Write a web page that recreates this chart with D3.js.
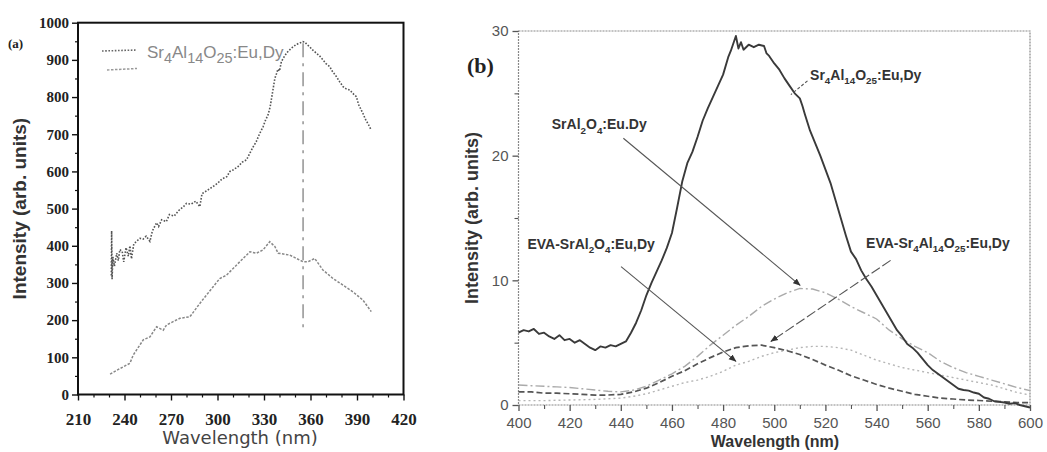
<!DOCTYPE html>
<html><head><meta charset="utf-8">
<script src="https://cdn.jsdelivr.net/npm/d3@7"></script>
<style>body{margin:0;background:#fff}svg{display:block}</style>
</head><body>
<svg id="c" width="1047" height="452"></svg>
<script>
// ---------- Panel (a) data ----------
const aTicksX = [210,240,270,300,330,360,390,420];
const aTicksY = [0,100,200,300,400,500,600,700,800,900,1000];
const aWaveSr4 = [231.5,231.7,232,232.5,233.5,235,236,237,238.5,239.5,241,242.5,243.5,244.5,246,247.8,250,252,254,256.4,258,260.7,262,264,267,269,272,275,278,280,283,286,288.6,290,293,297,300,303,306,308,310,313,316,318.7,321,323,325,327,329.4,331,332.6,334,335,335.8,337,338,339,340,341.2,342.5,344.5,346,348.7,351,353,355,356.3,358,359.5,361,363.8,366,368,370,372.4,374,376.7,379,381,383,385.3,387.8,389.6,391,393.8,395.5,397.5,399.2];
const aValSr4  = [320,440,310,370,345,380,360,390,385,357,395,372,400,365,405,412,420,418,426,412,440,462,452,470,465,484,480,495,505,514,512,520,505,540,548,559,568,580,586,600,604,612,625,631,650,666,680,700,720,738,752,774,800,820,850,862,875,870,895,905,918,925,935,942,945,949,948,940,935,928,918,910,900,890,882,870,855,840,828,822,819,808,801,780,756,740,725,711];
const aWaveSrAl = [230.7,237.2,243.5,245.6,252.1,256.4,260.7,265,267.1,275.7,282.2,288.6,297.2,301.5,305.8,310.1,314.4,320.9,325.1,329.4,333.7,337,339.1,346.6,350.9,355.2,358.4,362.7,368,374.5,381,387.4,393.8,399.2];
const aValSrAl  = [55,70,84,106,147,155,182,173,187,205,209,245,290,312,321,339,357,384,380,389,411,398,380,375,366,357,357,366,335,312,294,276,254,223];
const aMarkWave = 355.2;
const aMarkRange = [170, 945];

// ---------- Panel (b) data ----------
const bTicksX = [400,420,440,460,480,500,520,540,560,580,600];
const bTicksY = [0,10,20,30];
const bWaveMain = [400,402,404,406,408,410,412,414,416,418,420,422,424,426,428,430,432,434,436,438,440,442,444,446,448,450,452,454,456,458,460,462,464,466,468,470,472,474,476,478,480,482,483,484,485,486,487,488,490,492,494,496,497,498,500,502,504,506,508,510,511,512,514,516,518,520,522,524,526,528,530,532,534,536,538,540,542,544,546,548,550,552,554,556,558,560,562,564,566,568,570,572,574,576,578,580,582,584,586,588,590,592,594,596,598,600];
const bValMain  = [5.8,6.0,5.9,6.1,5.7,5.8,5.5,5.3,5.6,5.2,5.3,5.0,5.2,4.9,4.6,4.4,4.7,4.6,4.8,4.7,4.9,5.1,5.8,6.6,7.6,8.8,9.8,10.7,11.6,12.6,13.8,15.8,17.9,19.4,20.3,21.5,22.8,23.8,24.7,25.6,26.5,27.9,28.4,29.0,29.6,28.6,29.1,28.5,28.9,28.7,28.9,28.8,28.2,28.0,27.4,26.9,26.2,25.6,25.0,24.6,24.0,23.3,22.0,21.0,20.0,18.9,17.8,16.4,15.0,13.6,12.3,11.7,10.8,10.1,9.5,8.8,8.1,7.4,6.7,6.0,5.5,4.9,4.6,4.2,3.7,3.2,2.8,2.5,2.2,1.9,1.6,1.3,1.2,1.15,1.0,0.9,0.6,0.5,0.3,0.25,0.2,0.1,0.15,0.0,-0.1,-0.2];
const bWave5 = [400,405,410,415,420,425,430,435,440,445,450,455,460,465,470,475,480,485,490,495,500,505,510,515,520,525,530,535,540,545,550,555,560,565,570,575,580,585,590,595,600];
const bValEvaSrAl = [1.05,1.05,0.95,0.95,0.9,0.85,0.8,0.8,0.85,1.05,1.35,1.8,2.3,2.75,3.3,3.8,4.25,4.6,4.75,4.8,4.6,4.35,4.05,3.65,3.2,2.8,2.35,2.0,1.65,1.35,1.1,0.85,0.7,0.55,0.48,0.4,0.36,0.3,0.25,0.2,0.18];
const bValSrAl = [1.6,1.55,1.5,1.45,1.4,1.3,1.2,1.1,1.05,1.2,1.5,2.0,2.5,3.1,3.9,4.8,5.6,6.4,7.1,7.9,8.5,9.0,9.35,9.3,9.0,8.5,7.9,7.4,6.9,6.0,5.3,4.7,4.2,3.5,3.0,2.6,2.3,2.0,1.7,1.4,1.15];
const bValEvaSr4 = [0.35,0.35,0.35,0.38,0.4,0.42,0.45,0.5,0.55,0.7,0.9,1.2,1.5,1.8,2.0,2.3,2.7,3.2,3.5,3.9,4.2,4.4,4.6,4.7,4.7,4.6,4.4,4.0,3.6,3.3,3.0,2.8,2.6,2.4,2.2,2.0,1.8,1.6,1.3,1.0,0.8];
// annotation anchors in data units: [labelX, labelY, lineFromX, lineFromY, tipX, tipY]
const bNoteSrAl    = [413, 22.1, 441, 21.4, 510.1, 9.6];
const bNoteEvaSrAl = [403.5, 12.5, 440.1, 11.1, 485, 3.5];
const bNoteEvaSr4  = [535.9, 12.6, 545.5, 11.6, 498.7, 5.1];
const bNoteSr4     = [514, 26.1, 513, 26.0, 506.5, 24.9];

const svg = d3.select('#c');
const SERIF = '"Liberation Serif", "Times New Roman", serif';
const SANS = '"Liberation Sans", Arial, sans-serif';

// ================= Panel (a) =================
const A = {l:78, r:403.5, t:22.7, b:394.5};
const xA = d3.scaleLinear().domain([210,420]).range([A.l, A.r]);
const yA = d3.scaleLinear().domain([0,1000]).range([A.b, A.t]);
const gA = svg.append('g');

function styleAxis(g, font, size, weight, color, tickColor, tickW){
  g.select('.domain').remove();
  g.selectAll('line').attr('stroke', tickColor).attr('stroke-width', tickW);
  g.selectAll('text').attr('font-family', font).attr('font-size', size).attr('font-weight', weight).attr('fill', color);
}

const axAx = gA.append('g').attr('transform',`translate(0,${A.b})`)
  .call(d3.axisBottom(xA).tickValues(aTicksX).tickFormat(d3.format('d')).tickSize(6).tickPadding(12).tickSizeOuter(0));
styleAxis(axAx, SERIF, 17, 'bold', '#222', '#111', 1.4);
const axAxm = gA.append('g').attr('transform',`translate(0,${A.b})`)
  .call(d3.axisBottom(xA).tickValues(d3.range(210,421,10).filter(v=>!aTicksX.includes(v))).tickSize(3).tickFormat(''));
styleAxis(axAxm, SERIF, 10, 'normal', '#222', '#111', 1.2);
const axAy = gA.append('g').attr('transform',`translate(${A.l},0)`)
  .call(d3.axisLeft(yA).tickValues(aTicksY).tickFormat(d3.format('d')).tickSize(6).tickPadding(3).tickSizeOuter(0));
styleAxis(axAy, SERIF, 15, 'bold', '#222', '#111', 1.4);
const axAym = gA.append('g').attr('transform',`translate(${A.l},0)`)
  .call(d3.axisLeft(yA).tickValues(d3.range(50,1000,100)).tickSize(3).tickFormat(''));
styleAxis(axAym, SERIF, 10, 'normal', '#222', '#111', 1.2);

gA.append('rect').attr('x',A.l).attr('y',A.t).attr('width',A.r-A.l).attr('height',A.b-A.t)
  .attr('fill','none').attr('stroke','#111').attr('stroke-width',2);

const lineA = d3.line().x(d=>xA(d[0])).y(d=>yA(d[1]));
gA.append('path').datum(aWaveSr4.map((w,i)=>[w,aValSr4[i]])).attr('d',lineA)
  .attr('fill','none').attr('stroke','#555').attr('stroke-width',1.6).attr('stroke-dasharray','1.6,1.6');
gA.append('path').datum(aWaveSrAl.map((w,i)=>[w,aValSrAl[i]])).attr('d',lineA)
  .attr('fill','none').attr('stroke','#888').attr('stroke-width',1.5).attr('stroke-dasharray','2.5,1.5');
gA.append('line').attr('x1',xA(aMarkWave)).attr('x2',xA(aMarkWave))
  .attr('y1',yA(aMarkRange[1])).attr('y2',yA(aMarkRange[0]))
  .attr('stroke','#777').attr('stroke-width',1.2).attr('stroke-dasharray','14,6,3,6');

// legend (a)
gA.append('line').attr('x1',102).attr('x2',137).attr('y1',51).attr('y2',50)
  .attr('stroke','#666').attr('stroke-width',1.6).attr('stroke-dasharray','1.6,1.6');
gA.append('line').attr('x1',107).attr('x2',137).attr('y1',70).attr('y2',68.5)
  .attr('stroke','#999').attr('stroke-width',1.5).attr('stroke-dasharray','2.5,1.5');
function chem(g, x, y, parts, size, opts){
  const t = g.append('text').attr('x',x).attr('y',y).attr('font-family',opts.font||SANS)
    .attr('font-size',size).attr('font-weight',opts.weight||'normal').attr('fill',opts.fill||'#333');
  let shifted = false;
  parts.forEach(p=>{
    const sub = typeof p !== 'string';
    const txt = sub ? p[0] : p;
    const ts = t.append('tspan').text(txt);
    if (sub && !shifted){ ts.attr('dy', size*0.3).attr('font-size', size*(opts.subScale||0.72)); shifted = true; }
    else if (sub){ ts.attr('font-size', size*(opts.subScale||0.72)); }
    else if (!sub && shifted){ ts.attr('dy', -size*0.3); shifted = false; }
  });
  return t;
}
chem(gA, 147, 58, ['Sr',['4'],'Al',['14'],'O',['25'],':Eu,Dy'], 17, {fill:'#888', subScale:0.85});

gA.append('text').attr('x',8).attr('y',48).text('(a)').attr('font-family',SERIF)
  .attr('font-size',13).attr('font-weight','bold').attr('fill','#222');
gA.append('text').attr('transform',`translate(26,${(A.t+A.b)/2}) rotate(-90)`).attr('text-anchor','middle')
  .text('Intensity (arb. units)').attr('font-family',SANS).attr('font-size',19).attr('font-weight','bold').attr('fill','#333');
gA.append('text').attr('x',240).attr('y',444).attr('text-anchor','middle')
  .text('Wavelength (nm)').attr('font-family','"DejaVu Sans", sans-serif').attr('font-size',18).attr('fill','#444');

// ================= Panel (b) =================
const B = {l:518.5, r:1030, t:31, b:405};
const xB = d3.scaleLinear().domain([400,600]).range([B.l, B.r]);
const yB = d3.scaleLinear().domain([0,30]).range([B.b, B.t]);
const gB = svg.append('g');

gB.append('rect').attr('x',B.l).attr('y',B.t).attr('width',B.r-B.l).attr('height',B.b-B.t)
  .attr('fill','none').attr('stroke','#888').attr('stroke-width',1.2).attr('stroke-dasharray','2,1');

const bxAx = gB.append('g').attr('transform',`translate(0,${B.b})`)
  .call(d3.axisBottom(xB).tickValues(bTicksX).tickSize(6).tickPadding(6).tickSizeOuter(0));
styleAxis(bxAx, SANS, 15, 'normal', '#555', '#555', 1.3);
const bxAxm = gB.append('g').attr('transform',`translate(0,${B.b})`)
  .call(d3.axisBottom(xB).tickValues(d3.range(410,600,20)).tickSize(4).tickFormat(''));
styleAxis(bxAxm, SANS, 10, 'normal', '#555', '#555', 1.1);
const byAx = gB.append('g').attr('transform',`translate(${B.l},0)`)
  .call(d3.axisLeft(yB).tickValues(bTicksY).tickSize(6).tickPadding(4).tickSizeOuter(0));
styleAxis(byAx, SANS, 15, 'normal', '#555', '#555', 1.3);
const byAxm = gB.append('g').attr('transform',`translate(${B.l},0)`)
  .call(d3.axisLeft(yB).tickValues([5,15,25]).tickSize(4).tickFormat(''));
styleAxis(byAxm, SANS, 10, 'normal', '#555', '#555', 1.1);

const lineB = d3.line().x(d=>xB(d[0])).y(d=>yB(d[1]));
gB.append('path').datum(bWave5.map((w,i)=>[w,bValEvaSr4[i]])).attr('d',lineB)
  .attr('fill','none').attr('stroke','#b5b5b5').attr('stroke-width',1.4).attr('stroke-dasharray','2,3');
gB.append('path').datum(bWave5.map((w,i)=>[w,bValSrAl[i]])).attr('d',lineB)
  .attr('fill','none').attr('stroke','#aaa').attr('stroke-width',1.4).attr('stroke-dasharray','9,3,2,3');
gB.append('path').datum(bWave5.map((w,i)=>[w,bValEvaSrAl[i]])).attr('d',lineB)
  .attr('fill','none').attr('stroke','#555').attr('stroke-width',1.7).attr('stroke-dasharray','6,3');
gB.append('path').datum(bWaveMain.map((w,i)=>[w,bValMain[i]])).attr('d',lineB)
  .attr('fill','none').attr('stroke','#3a3a3a').attr('stroke-width',1.9).attr('stroke-linejoin','round');

// arrow marker
svg.append('defs').append('marker').attr('id','arr').attr('viewBox','0 0 10 10').attr('refX',9).attr('refY',5)
  .attr('markerWidth',7).attr('markerHeight',7).attr('orient','auto-start-reverse')
  .append('path').attr('d','M0,1 L10,5 L0,9 Z').attr('fill','#333');

function note(n, parts, dashed, arrow){
  chem(gB, xB(n[0]), yB(n[1]), parts, 14, {weight:'bold', fill:'#333', subScale:0.7});
  const l = gB.append('line').attr('x1',xB(n[2])).attr('y1',yB(n[3])).attr('x2',xB(n[4])).attr('y2',yB(n[5]))
    .attr('stroke','#555').attr('stroke-width',1.1);
  if (dashed) l.attr('stroke-dasharray', dashed);
  if (arrow) l.attr('marker-end','url(#arr)');
}
note(bNoteSr4, ['Sr',['4'],'Al',['14'],'O',['25'],':Eu,Dy'], '3,2', false);
note(bNoteSrAl, ['SrAl',['2'],'O',['4'],':Eu.Dy'], null, true);
note(bNoteEvaSrAl, ['EVA-SrAl',['2'],'O',['4'],':Eu,Dy'], null, true);
note(bNoteEvaSr4, ['EVA-Sr',['4'],'Al',['14'],'O',['25'],':Eu,Dy'], '10,3', true);

gB.append('text').attr('x',467).attr('y',73).text('(b)').attr('font-family',SERIF)
  .attr('font-size',22).attr('font-weight','bold').attr('fill','#222');
gB.append('text').attr('transform',`translate(478,${(B.t+B.b)/2}) rotate(-90)`).attr('text-anchor','middle')
  .text('Intensity (arb. units)').attr('font-family',SANS).attr('font-size',18).attr('font-weight','bold').attr('fill','#333');
gB.append('text').attr('x',775).attr('y',447).attr('text-anchor','middle')
  .text('Wavelength (nm)').attr('font-family',SANS).attr('font-size',16).attr('font-weight','bold').attr('fill','#333');
</script>
</body></html>
